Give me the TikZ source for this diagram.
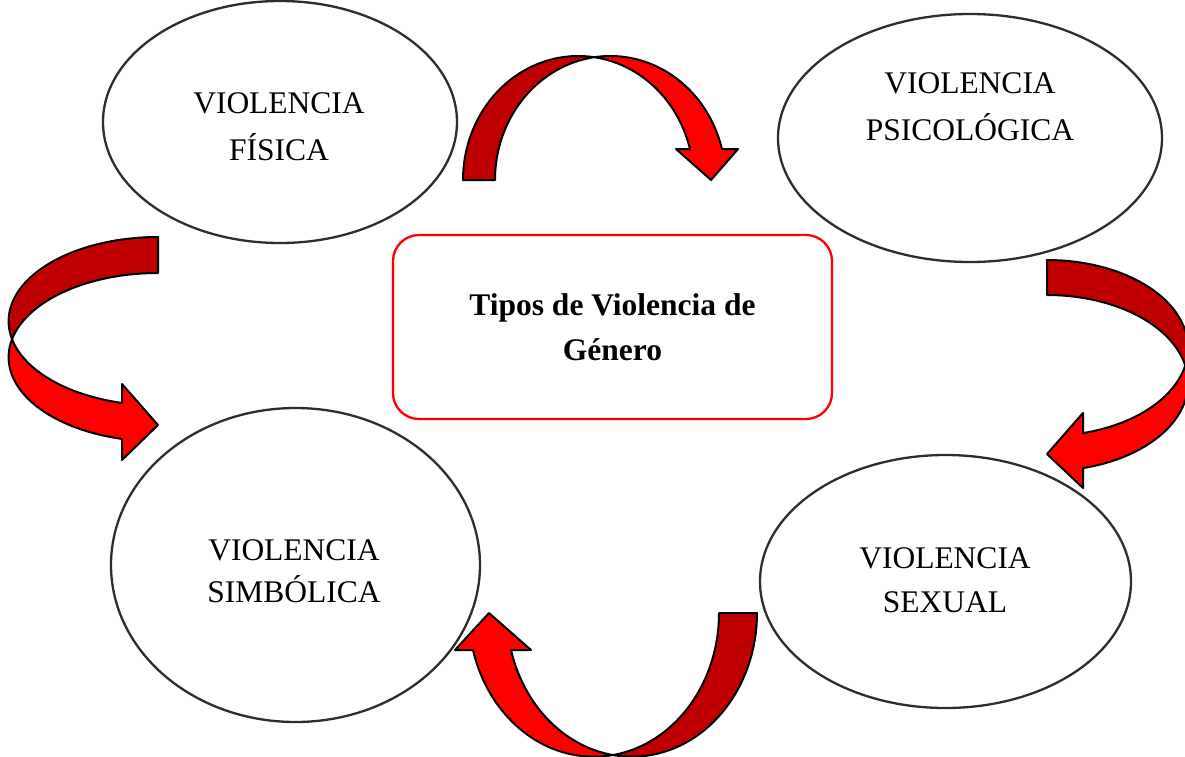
\documentclass[tikz,border=0pt]{standalone}
\usepackage{fontspec}
\setmainfont{Liberation Serif}
\usetikzlibrary{shapes.geometric}
\definecolor{darkred}{RGB}{192,0,0}
\definecolor{brightred}{RGB}{255,0,0}
\definecolor{ellline}{RGB}{45,45,45}
\newcommand\ribbonarrow[7]{%
 \pgfmathsetmacro\rA{#1}\pgfmathsetmacro\rB{#2}\pgfmathsetmacro\rW{#3}\pgfmathsetmacro\rH{#4}%
 \pgfmathsetmacro\tA{-acos(\rW/(2*\rA))}%
 \pgfmathsetmacro\tB{-180+acos(\rW/(2*\rA))}%
 \pgfmathsetmacro\tE{-asin(\rH/\rB)}%
 \fill[darkred, arrowline] plot[domain=-180:\tA, samples=60, variable=\q] ({\rA*cos(\q)},{\rB*sin(\q)})
   -- plot[domain=\tB:-180, samples=60, variable=\q] ({\rW+\rA*cos(\q)},{\rB*sin(\q)}) -- cycle;
 \fill[brightred, arrowline] plot[domain=\tB:\tE, samples=60, variable=\q] ({\rW+\rA*cos(\q)},{\rB*sin(\q)})
   -- (#6,-\rH) -- (#7,0) -- (#5,-\rH)
   -- plot[domain=\tE:\tA, samples=60, variable=\q] ({\rA*cos(\q)},{\rB*sin(\q)}) -- cycle;
}
\begin{document}
\begin{tikzpicture}[x=1pt,y=-1pt,
  arrowline/.style={draw=black, line width=2pt, line join=round},
  ell/.style={ellipse, draw=ellline, line width=2.3pt, fill=white, inner sep=0pt},
  lbl/.style={align=center, font=\fontsize{31.5}{47}\selectfont},
  centerbox/.style={draw=brightred, line width=2.3pt, rounded corners=26pt, fill=white, align=center,
     font=\fontsize{31.5}{45}\selectfont\bfseries, inner sep=0pt}]
\useasboundingbox (0,0) rectangle (1185,756);
% ellipses
\node[ell, minimum width=354pt, minimum height=242pt] (fisica) at (280,122) {};
\node[ell, minimum width=384pt, minimum height=248pt] (psico) at (970,138) {};
\node[ell, minimum width=369pt, minimum height=314pt] (simb) at (295.5,565) {};
\node[ell, minimum width=371pt, minimum height=253pt] (sexual) at (945.5,581.5) {};
% labels
\node[lbl] (fisicaT) at (279,126.5) {VIOLENCIA\\FÍSICA};
\node[lbl] (psicoT) at (970,106.5) {VIOLENCIA\\PSICOLÓGICA};
\node[lbl, font=\fontsize{31.5}{42}\selectfont] (simbT) at (294,571) {VIOLENCIA\\SIMBÓLICA};
\node[lbl, font=\fontsize{31.5}{44}\selectfont] (sexualT) at (945,580) {VIOLENCIA\\SEXUAL};
% center box
\node[centerbox, minimum width=439pt, minimum height=184pt] (tipos) at (612.5,327) {Tipos de Violencia de\\Género};
% arrows
\begin{scope}[shift={(578.3,180)}]
  \ribbonarrow{115.3}{124}{32}{31}{97.7}{159.7}{132.7}
\end{scope}
\begin{scope}[shift={(158,321.2)}, cm={0,-1,-1,0,(0,0)}]
  \ribbonarrow{84.2}{149.4}{36}{36}{62.8}{138.8}{103.8}
\end{scope}
\begin{scope}[shift={(1047,348)}, rotate=-90]
  \ribbonarrow{88}{141}{35}{36}{65}{140}{106}
\end{scope}
\begin{scope}[shift={(631.9,613)}, rotate=180]
  \ribbonarrow{125.1}{143.7}{38}{37}{100.9}{176.9}{142.9}
\end{scope}
\end{tikzpicture}
\end{document}
